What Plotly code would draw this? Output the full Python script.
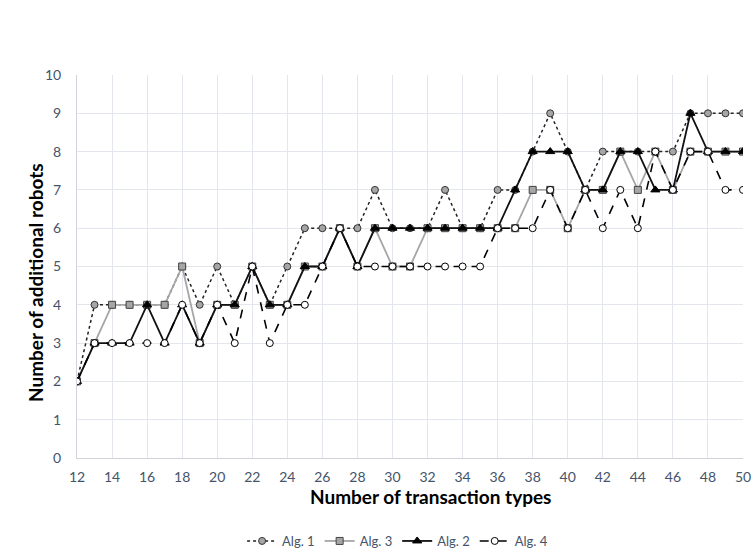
import plotly.graph_objects as go

x_vals = list(range(12, 51))
alg1 = [2, 4, 4, 4, 4, 4, 5, 4, 5, 4, 5, 4, 5, 6, 6, 6, 6, 7, 6, 6, 6, 7, 6, 6, 7, 7, 8, 9, 8, 7, 8, 8, 8, 8, 8, 9, 9, 9, 9]
alg3 = [2, 3, 4, 4, 4, 4, 5, 3, 4, 4, 5, 4, 4, 5, 5, 6, 5, 6, 5, 5, 6, 6, 6, 6, 6, 6, 7, 7, 6, 7, 7, 8, 7, 8, 7, 8, 8, 8, 8]
alg2 = [2, 3, 3, 3, 4, 3, 4, 3, 4, 4, 5, 4, 4, 5, 5, 6, 5, 6, 6, 6, 6, 6, 6, 6, 6, 7, 8, 8, 8, 7, 7, 8, 8, 7, 7, 9, 8, 8, 8]
alg4 = [2, 3, 3, 3, 3, 3, 4, 3, 4, 3, 5, 3, 4, 4, 5, 6, 5, 5, 5, 5, 5, 5, 5, 5, 6, 6, 6, 7, 6, 7, 6, 7, 6, 8, 7, 8, 8, 7, 7]
x_ticks = list(range(12, 51, 2))
y_ticks = list(range(0, 11))
x_title = "Number of transaction types"
y_title = "Number of additional robots"

FONT = "Lato, 'Open Sans', sans-serif"
TICK_COLOR = "#44546a"
W, H = 753, 556
ML, MR, MT, MB = 77, 10, 75, 98

fig = go.Figure()
fig.add_trace(go.Scatter(
    x=x_vals, y=alg1, name="Alg. 1", mode="lines+markers",
    line=dict(color="#222222", width=1.5, dash="dot"),
    marker=dict(symbol="circle", size=7, color="#a6a6a6", line=dict(color="#333333", width=1)),
))
fig.add_trace(go.Scatter(
    x=x_vals, y=alg3, name="Alg. 3", mode="lines+markers",
    line=dict(color="#a6a6a6", width=1.8),
    marker=dict(symbol="square", size=7, color="#a6a6a6", line=dict(color="#444444", width=1)),
))
fig.add_trace(go.Scatter(
    x=x_vals, y=alg2, name="Alg. 2", mode="lines+markers",
    line=dict(color="#111111", width=1.8),
    marker=dict(symbol="triangle-up", size=8, color="#000000", line=dict(color="#000000", width=1)),
))
fig.add_trace(go.Scatter(
    x=x_vals, y=alg4, name="Alg. 4", mode="lines+markers",
    line=dict(color="#000000", width=1.6, dash="dash"),
    marker=dict(symbol="circle", size=7, color="#ffffff", line=dict(color="#000000", width=1)),
))

fig.update_layout(
    width=W, height=H,
    margin=dict(l=ML, r=MR, t=MT, b=MB, autoexpand=False),
    paper_bgcolor="white", plot_bgcolor="white",
    font=dict(family=FONT, size=14, color=TICK_COLOR),
    showlegend=True,
    legend=dict(orientation="h", xref="container", yref="container",
                x=0.528, xanchor="center", y=1 - 541 / H, yanchor="middle",
                font=dict(family=FONT, size=13, color=TICK_COLOR), traceorder="normal",
                itemwidth=30, tracegroupgap=0),
    xaxis=dict(
        range=[12, 50], tickvals=x_ticks, ticktext=[str(v) for v in x_ticks],
        showgrid=True, gridcolor="#e3e6ec", gridwidth=1,
        zeroline=False, showline=True, linecolor="#d0d4da", linewidth=1,
        ticks="", ticklabelstandoff=6, tickfont=dict(family=FONT, size=14, color=TICK_COLOR),
        automargin=False,
    ),
    yaxis=dict(
        range=[0, 10], tickvals=y_ticks, ticktext=[str(v) for v in y_ticks],
        showgrid=True, gridcolor="#e3e6ec", gridwidth=1,
        zeroline=False, showline=True, linecolor="#d0d4da", linewidth=1,
        ticks="", ticklabelstandoff=12, tickfont=dict(family=FONT, size=14, color=TICK_COLOR),
        automargin=False,
    ),
    annotations=[
        dict(text="<b>" + x_title + "</b>", xref="paper", yref="paper",
             x=(430 - ML) / (W - ML - MR), y=-(496 - (H - MB)) / (H - MT - MB),
             xanchor="center", yanchor="middle", showarrow=False,
             font=dict(family=FONT, size=19, color="#000000")),
        dict(text="<b>" + y_title + "</b>", xref="paper", yref="paper", textangle=-90,
             x=-(ML - 35) / (W - ML - MR), y=1 - (283 - MT) / (H - MT - MB),
             xanchor="center", yanchor="middle", showarrow=False,
             font=dict(family=FONT, size=19, color="#000000")),
    ],
)

fig.write_html("out.html", config={"displayModeBar": False},
               post_script="document.body.style.margin='0';")
